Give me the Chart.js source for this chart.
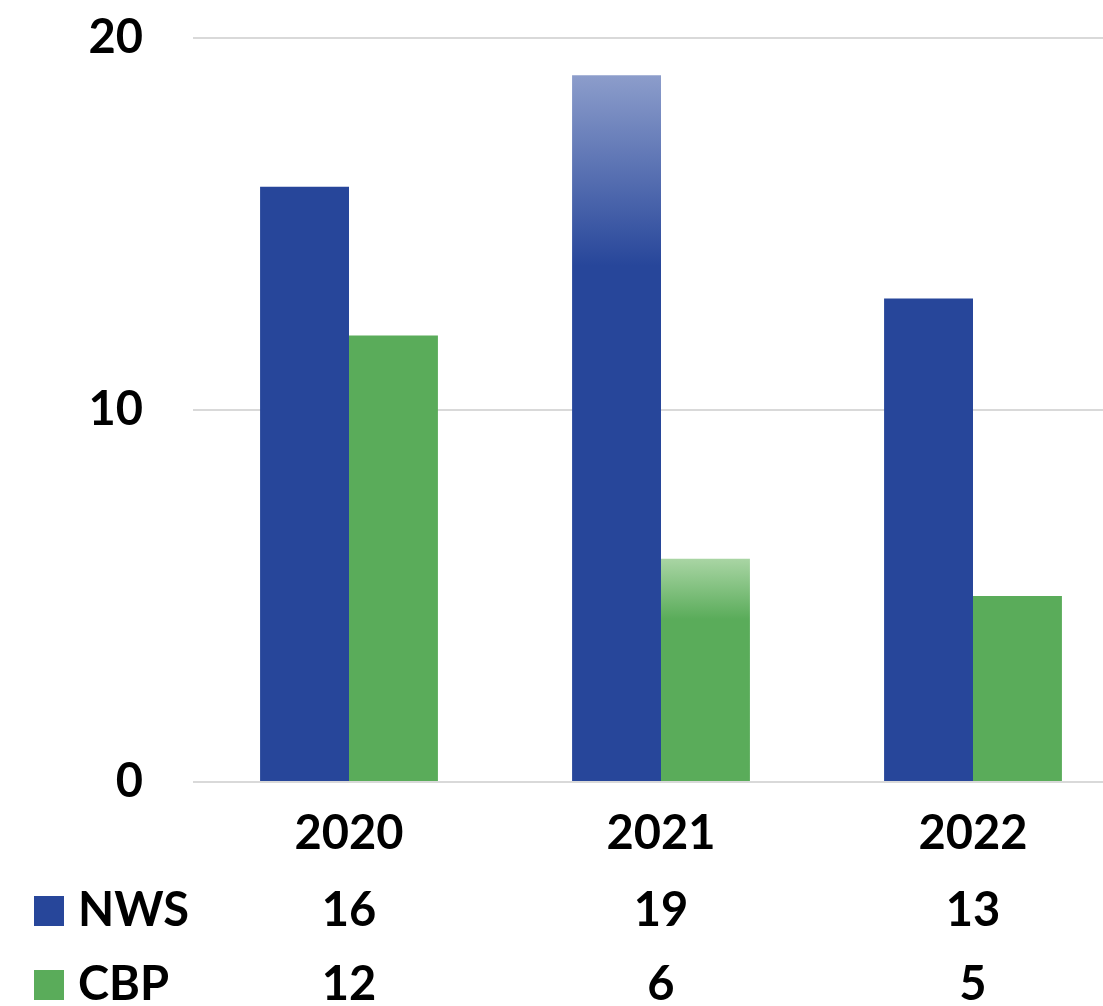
<!DOCTYPE html>
<html>
<head>
<meta charset="utf-8">
<script src="https://cdn.jsdelivr.net/npm/chart.js@4/dist/chart.umd.min.js"></script>
<style>
  html, body { margin: 0; padding: 0; background: #fff; overflow: hidden; }
  #wrap { width: 1135px; height: 1006px; }
</style>
</head>
<body>
<div id="wrap"><canvas id="chart" width="1135" height="1006"></canvas></div>
<script>
const years = ['2020', '2021', '2022'];
const nwsValues = [16, 19, 13];
const cbpValues = [12, 6, 5];
const yTicks = [0, 10, 20];
const fadeIndex = 1; // the 2021 bars fade out at the top

const FONT = 'Lato, "Open Sans", sans-serif';

const fadeFill = (solid, light) => (ctx) => {
    const chart = ctx.chart;
    if (ctx.type !== 'data' || ctx.dataIndex !== fadeIndex || !chart.chartArea) return solid;
    const y = chart.scales.y;
    const top = y.getPixelForValue(ctx.raw);
    const base = y.getPixelForValue(0);
    const g = chart.ctx.createLinearGradient(0, top, 0, top + (base - top) * 0.27);
    g.addColorStop(0, light);
    g.addColorStop(1, solid);
    return g;
};

const series = [
    { label: 'NWS', data: nwsValues, color: '#27469a', light: '#8c9dcb' },
    { label: 'CBP', data: cbpValues, color: '#5aac5a', light: '#a9d5a4' },
];

// data table under the x axis
const tablePlugin = {
    id: 'dataTable',
    afterDraw(chart) {
        const ctx = chart.ctx;
        const x = chart.scales.x;
        const rowsY = [911, 985];
        ctx.save();
        ctx.font = 'bold 47px ' + FONT;
        ctx.fillStyle = '#000';
        ctx.textBaseline = 'middle';
        series.forEach((s, r) => {
            const cy = rowsY[r];
            ctx.fillStyle = s.color;
            ctx.fillRect(34, cy - 15, 30, 30);
            ctx.fillStyle = '#000';
            ctx.textAlign = 'left';
            ctx.fillText(s.label, 78, cy);
            ctx.textAlign = 'center';
            s.data.forEach((v, i) => {
                ctx.fillText(String(v), x.getPixelForValue(i), cy);
            });
        });
        ctx.restore();
    }
};

new Chart(document.getElementById('chart'), {
    type: 'bar',
    data: {
        labels: years,
        datasets: series.map(s => ({
            label: s.label,
            data: s.data,
            backgroundColor: fadeFill(s.color, s.light),
            borderWidth: 0,
            barPercentage: 1,
            categoryPercentage: 0.57,
        }))
    },
    options: {
        responsive: false,
        animation: false,
        layout: { padding: { top: 0, right: 6, left: 0, bottom: 0 } },
        plugins: {
            legend: { display: false },
            tooltip: { enabled: false }
        },
        scales: {
            x: {
                grid: { display: false },
                border: { display: false },
                ticks: {
                    color: '#000',
                    font: { family: FONT, size: 47, weight: 'bold' },
                    padding: 16,
                },
                afterFit: (axis) => { axis.height = 224; }
            },
            y: {
                min: 0,
                max: 20,
                afterBuildTicks: (axis) => { axis.ticks = yTicks.map(v => ({ value: v })); },
                grid: { color: '#d9d9d9', lineWidth: 2, drawTicks: false },
                border: { display: false },
                ticks: {
                    color: '#000',
                    font: { family: FONT, size: 47, weight: 'bold' },
                    padding: 50,
                },
                afterFit: (axis) => {
                    axis.width = 193;
                    axis.paddingTop = 38;
                    axis.paddingBottom = 0;
                }
            }
        }
    },
    plugins: [tablePlugin]
});
</script>
</body>
</html>
